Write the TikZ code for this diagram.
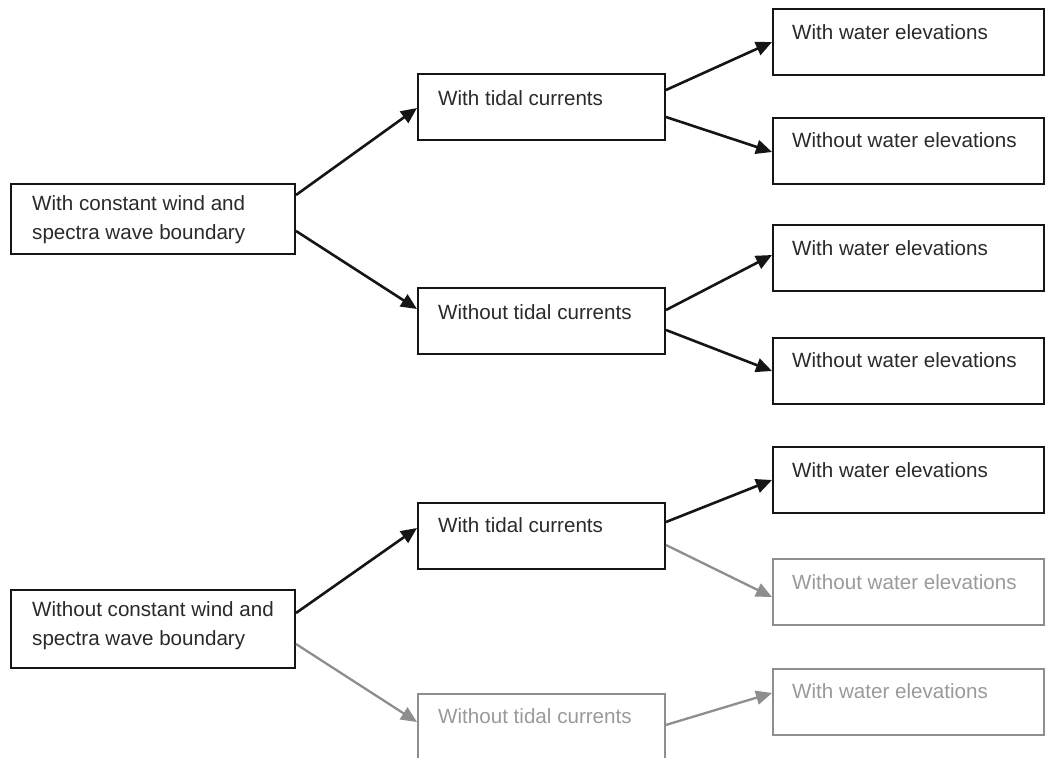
\documentclass[tikz,border=0pt]{standalone}
\usepackage{fontspec}
\setmainfont{Liberation Sans}
\usetikzlibrary{arrows.meta}
\definecolor{ink}{HTML}{151515}
\definecolor{txt}{HTML}{2A2A2A}
\definecolor{lgrey}{HTML}{8E8E8E}
\definecolor{tgrey}{HTML}{9A9A9A}
\tikzset{
  box/.style={draw=ink, line width=2pt, rectangle, anchor=north west, inner sep=0pt},
  gbox/.style={box, draw=lgrey, line width=1.7pt},
  rootbox/.style={minimum width=284pt},
  midbox/.style={minimum width=247pt, minimum height=66pt},
  rbox/.style={minimum width=271pt, minimum height=66pt},
  lbl/.style={anchor=west, inner sep=0pt, text=txt, font=\fontsize{20.6pt}{29pt}\selectfont, align=left},
  glbl/.style={lbl, text=tgrey},
  arr/.style={draw=ink, line width=2.6pt, -{Triangle[length=16pt,width=14pt]}},
  garr/.style={arr, draw=lgrey, line width=2.3pt},
}
\begin{document}
\begin{tikzpicture}[x=1pt,y=-1pt]
\useasboundingbox (0,0) rectangle (1045,758);
\clip (0,0) rectangle (1045,758);
% roots
\node[box,rootbox,minimum height=70pt] (r1) at (10,183) {};
\node[lbl] (r1t) at ([xshift=22pt,yshift=-36.5pt]r1.north west) {With constant wind and\\spectra wave boundary};
\node[box,rootbox,minimum height=78pt] (r2) at (10,589) {};
\node[lbl] (r2t) at ([xshift=22pt,yshift=-37pt]r2.north west) {Without constant wind and\\spectra wave boundary};
% middle
\node[box,midbox] (m1) at (417,73) {};
\node[lbl] (m1t) at ([xshift=21pt,yshift=-25pt]m1.north west) {With tidal currents};
\node[box,midbox] (m2) at (417,287) {};
\node[lbl] (m2t) at ([xshift=21pt,yshift=-25pt]m2.north west) {Without tidal currents};
\node[box,midbox] (m3) at (417,502) {};
\node[lbl] (m3t) at ([xshift=21pt,yshift=-23pt]m3.north west) {With tidal currents};
\node[gbox,midbox] (m4) at (417,693) {};
\node[glbl] (m4t) at ([xshift=21pt,yshift=-23pt]m4.north west) {Without tidal currents};
% right
\node[box,rbox] (e1) at (772,8) {};
\node[lbl] (e1t) at ([xshift=20pt,yshift=-24pt]e1.north west) {With water elevations};
\node[box,rbox] (e2) at (772,117) {};
\node[lbl] (e2t) at ([xshift=20pt,yshift=-23pt]e2.north west) {Without water elevations};
\node[box,rbox] (e3) at (772,224) {};
\node[lbl] (e3t) at ([xshift=20pt,yshift=-24pt]e3.north west) {With water elevations};
\node[box,rbox] (e4) at (772,337) {};
\node[lbl] (e4t) at ([xshift=20pt,yshift=-23pt]e4.north west) {Without water elevations};
\node[box,rbox] (e5) at (772,446) {};
\node[lbl] (e5t) at ([xshift=20pt,yshift=-24pt]e5.north west) {With water elevations};
\node[gbox,rbox] (e6) at (772,558) {};
\node[glbl] (e6t) at ([xshift=20pt,yshift=-24pt]e6.north west) {Without water elevations};
\node[gbox,rbox] (e7) at (772,668) {};
\node[glbl] (e7t) at ([xshift=20pt,yshift=-23pt]e7.north west) {With water elevations};
% arrows
\draw[arr] ([yshift=-12pt]r1.north east) -- ([yshift=-35pt]m1.north west);
\draw[arr] ([yshift=-48pt]r1.north east) -- ([yshift=-22pt]m2.north west);
\draw[arr] ([yshift=-17pt]m1.north east) -- ([yshift=-34pt]e1.north west);
\draw[arr] ([yshift=-44pt]m1.north east) -- ([yshift=-35pt]e2.north west);
\draw[arr] ([yshift=-23pt]m2.north east) -- ([yshift=-31pt]e3.north west);
\draw[arr] ([yshift=-43pt]m2.north east) -- ([yshift=-34pt]e4.north west);
\draw[arr] ([yshift=-24pt]r2.north east) -- ([yshift=-26pt]m3.north west);
\draw[garr] ([yshift=-55pt]r2.north east) -- ([yshift=-29pt]m4.north west);
\draw[arr] ([yshift=-20pt]m3.north east) -- ([yshift=-34pt]e5.north west);
\draw[garr] ([yshift=-43pt]m3.north east) -- ([yshift=-39pt]e6.north west);
\draw[garr] ([yshift=-32pt]m4.north east) -- ([yshift=-25pt]e7.north west);
\end{tikzpicture}
\end{document}
